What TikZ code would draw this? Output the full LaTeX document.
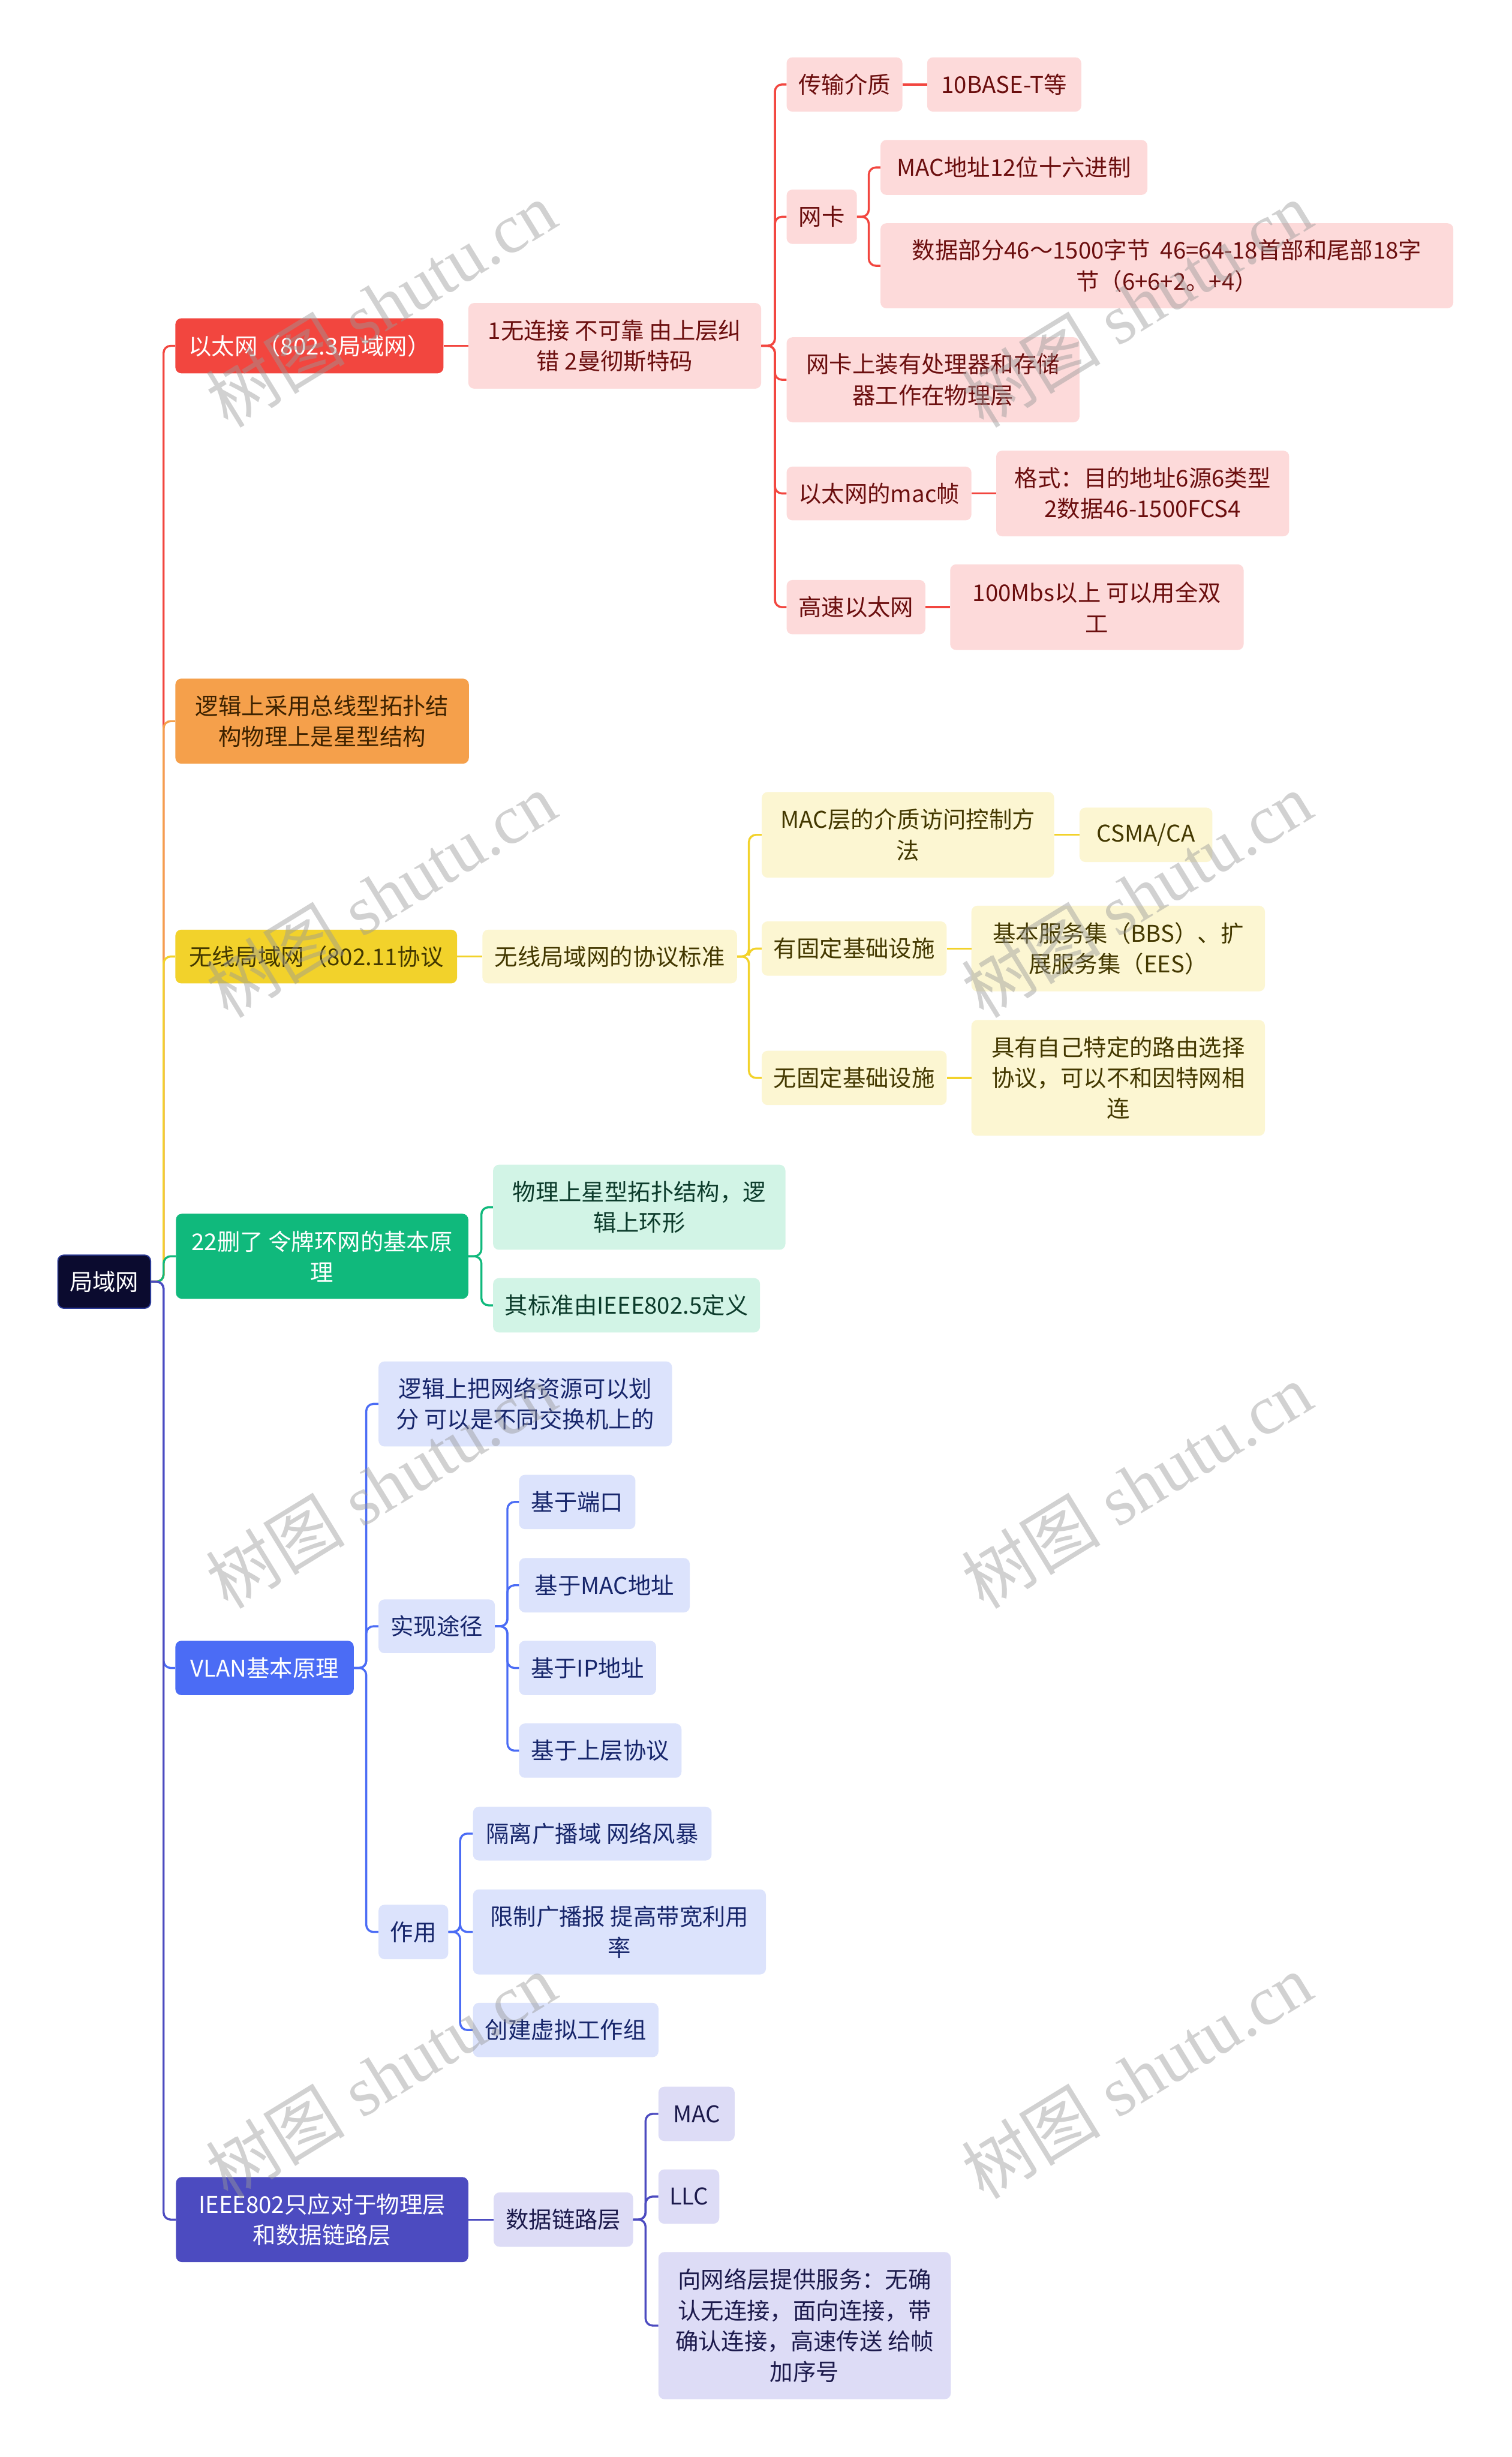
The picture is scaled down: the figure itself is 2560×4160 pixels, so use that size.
\documentclass[tikz,border=0pt]{standalone}
\usepackage{fontspec}
\setmainfont{Noto Sans CJK SC}
\newfontfamily\wmcjk{Noto Sans CJK SC}
\newfontfamily\wmlat{Liberation Serif}
\definecolor{cR}{HTML}{F2463F}
\definecolor{cRl}{HTML}{FDDADA}
\definecolor{cRt}{HTML}{6B0E0E}
\definecolor{cO}{HTML}{F5A04B}
\definecolor{cOt}{HTML}{3D2200}
\definecolor{cY}{HTML}{F2D22B}
\definecolor{cYl}{HTML}{FCF6D2}
\definecolor{cYt}{HTML}{433800}
\definecolor{cG}{HTML}{10B97C}
\definecolor{cGl}{HTML}{D2F4E6}
\definecolor{cGt}{HTML}{0C3B2B}
\definecolor{cB}{HTML}{4B6CF5}
\definecolor{cBl}{HTML}{DCE3FC}
\definecolor{cBt}{HTML}{17266B}
\definecolor{cI}{HTML}{4C4BC0}
\definecolor{cIl}{HTML}{DDDCF6}
\definecolor{cIt}{HTML}{1C1A4C}
\definecolor{cRoot}{HTML}{0B0B2F}
\definecolor{cRootB}{HTML}{2B3A96}
\begin{document}
\begin{tikzpicture}[x=1pt,y=-1pt,
  box/.style={rectangle, rounded corners=10pt, inner sep=0pt, align=center,
    font=\fontsize{39pt}{52pt}\selectfont},
  sz/.style 2 args={minimum width=#1pt, minimum height=#2pt},
  rootbox/.style={box, fill=cRoot, draw=cRootB, line width=2pt, text=white},
  rmain/.style={box, fill=cR, text=white},
  rsub/.style={box, fill=cRl, text=cRt},
  omain/.style={box, fill=cO, text=cOt},
  ymain/.style={box, fill=cY, text=cYt},
  ysub/.style={box, fill=cYl, text=cYt},
  gmain/.style={box, fill=cG, text=white},
  gsub/.style={box, fill=cGl, text=cGt},
  bmain/.style={box, fill=cB, text=white},
  bsub/.style={box, fill=cBl, text=cBt},
  imain/.style={box, fill=cI, text=white},
  isub/.style={box, fill=cIl, text=cIt},
  conn/.style={line width=3.5pt, rounded corners=12pt},
  lR/.style={conn, draw=cR},
  lO/.style={conn, draw=cO},
  lY/.style={conn, draw=cY},
  lG/.style={conn, draw=cG},
  lB/.style={conn, draw=cB},
  lI/.style={conn, draw=cI},
  wm/.style={rotate=31.5, text=black!40, opacity=0.45, inner sep=0pt}
]
\useasboundingbox[fill=white] (0,0) rectangle (2560,4160);

% ---------- nodes ----------
\node[rootbox, sz={157}{90}] (root) at (176.5,2170) {局域网};

% red branch
\node[rmain, sz={454}{93}] (R0) at (524,585.5) {以太网（802.3局域网）};
\node[rsub, sz={496}{145}] (R1) at (1041,585.5) {1无连接 不可靠 由上层纠\\错 2曼彻斯特码};
\node[rsub, sz={196}{92}] (R2) at (1430,143) {传输介质};
\node[rsub, sz={261}{92}] (R3) at (1700.5,143) {10BASE-T等};
\node[rsub, sz={119}{92}] (R4) at (1391.5,367) {网卡};
\node[rsub, sz={452}{93}] (R5) at (1717,283.5) {MAC地址12位十六进制};
\node[rsub, sz={970}{144}] (R6) at (1976,450) {数据部分46～1500字节\ \ 46=64-18首部和尾部18字\\节（6+6+2。+4）};
\node[rsub, sz={496}{144}] (R7) at (1580,643) {网卡上装有处理器和存储\\器工作在物理层};
\node[rsub, sz={313}{91}] (R8) at (1488.5,835.5) {以太网的mac帧};
\node[rsub, sz={496}{145}] (R9) at (1935,835.5) {格式：目的地址6源6类型\\2数据46-1500FCS4};
\node[rsub, sz={235}{92}] (R10) at (1449.5,1028) {高速以太网};
\node[rsub, sz={497}{145}] (R11) at (1857.5,1028) {100Mbs以上 可以用全双\\工};

% orange branch
\node[omain, sz={497}{144}] (O0) at (545.5,1221) {逻辑上采用总线型拓扑结\\构物理上是星型结构};

% yellow branch
\node[ymain, sz={477}{91}] (Y0) at (535.5,1619.5) {无线局域网（802.11协议};
\node[ysub, sz={431}{91}] (Y1) at (1032.5,1619.5) {无线局域网的协议标准};
\node[ysub, sz={495}{145}] (Y2) at (1537.5,1413.5) {MAC层的介质访问控制方\\法};
\node[ysub, sz={225}{92}] (Y3) at (1940.5,1413.5) {CSMA/CA};
\node[ysub, sz={313}{92}] (Y4) at (1446.5,1606) {有固定基础设施};
\node[ysub, sz={497}{145}] (Y5) at (1893.5,1606) {基本服务集（BBS）、扩\\展服务集（EES）};
\node[ysub, sz={313}{92}] (Y6) at (1446.5,1825) {无固定基础设施};
\node[ysub, sz={497}{196}] (Y7) at (1893.5,1825) {具有自己特定的路由选择\\协议，可以不和因特网相\\连};

% green branch
\node[gmain, sz={495}{144}] (G0) at (545.5,2127) {22删了 令牌环网的基本原\\理};
\node[gsub, sz={495}{144}] (G1) at (1082.5,2044) {物理上星型拓扑结构，逻\\辑上环形};
\node[gsub, sz={452}{92}] (G2) at (1061,2210) {其标准由IEEE802.5定义};

% blue branch
\node[bmain, sz={302}{92}] (B0) at (448,2824) {VLAN基本原理};
\node[bsub, sz={497}{144}] (B1) at (889.5,2377) {逻辑上把网络资源可以划\\分 可以是不同交换机上的};
\node[bsub, sz={197}{91}] (B2) at (739.5,2753.5) {实现途径};
\node[bsub, sz={197}{92}] (B3) at (977.5,2543) {基于端口};
\node[bsub, sz={289}{92}] (B4) at (1023.5,2684) {基于MAC地址};
\node[bsub, sz={232}{92}] (B5) at (995,2824) {基于IP地址};
\node[bsub, sz={275}{92}] (B6) at (1016.5,2964) {基于上层协议};
\node[bsub, sz={118}{92}] (B7) at (700,3271) {作用};
\node[bsub, sz={404}{91}] (B8) at (1003,3104.5) {隔离广播域 网络风暴};
\node[bsub, sz={496}{144}] (B9) at (1049,3271) {限制广播报 提高带宽利用\\率};
\node[bsub, sz={314}{92}] (B10) at (958,3437) {创建虚拟工作组};

% indigo branch
\node[imain, sz={495}{144}] (I0) at (545.5,3758) {IEEE802只应对于物理层\\和数据链路层};
\node[isub, sz={236}{92}] (I1) at (954,3758) {数据链路层};
\node[isub, sz={129}{92}] (I2) at (1179.5,3579) {MAC};
\node[isub, sz={103}{92}] (I3) at (1166.5,3719) {LLC};
\node[isub, sz={495}{249}] (I4) at (1362.5,3937.5) {向网络层提供服务：无确\\认无连接，面向连接，带\\确认连接，高速传送 给帧\\加序号};

% ---------- connectors ----------
\begin{scope}[on background layer/.style={}]
\end{scope}
\begin{pgfonlayer}{main}
\end{pgfonlayer}

\draw[lR] (root.east) -- ++(21,0) |- (R0.west);
\draw[lO] (root.east) -- ++(21,0) |- (O0.west);
\draw[lY] (root.east) -- ++(21,0) |- (Y0.west);
\draw[lG] (root.east) -- ++(21,0) |- (G0.west);
\draw[lB] (root.east) -- ++(21,0) |- (B0.west);
\draw[lI] (root.east) -- ++(21,0) |- (I0.west);

\draw[lR] (R0.east) -- (R1.west);
\foreach \c in {R2,R4,R7,R8,R10} \draw[lR] (R1.east) -- ++(23,0) |- (\c.west);
\draw[lR] (R2.east) -- (R3.west);
\foreach \c in {R5,R6} \draw[lR] (R4.east) -- ++(20,0) |- (\c.west);
\draw[lR] (R8.east) -- (R9.west);
\draw[lR] (R10.east) -- (R11.west);

\draw[lY] (Y0.east) -- (Y1.west);
\foreach \c in {Y2,Y4,Y6} \draw[lY] (Y1.east) -- ++(20,0) |- (\c.west);
\draw[lY] (Y2.east) -- (Y3.west);
\draw[lY] (Y4.east) -- (Y5.west);
\draw[lY] (Y6.east) -- (Y7.west);

\foreach \c in {G1,G2} \draw[lG] (G0.east) -- ++(22,0) |- (\c.west);

\foreach \c in {B1,B2,B7} \draw[lB] (B0.east) -- ++(21,0) |- (\c.west);
\foreach \c in {B3,B4,B5,B6} \draw[lB] (B2.east) -- ++(21,0) |- (\c.west);
\foreach \c in {B8,B9,B10} \draw[lB] (B7.east) -- ++(20,0) |- (\c.west);

\draw[lI] (I0.east) -- (I1.west);
\foreach \c in {I2,I3,I4} \draw[lI] (I1.east) -- ++(21,0) |- (\c.west);

% ---------- watermarks ----------
\foreach \wx in {645,1925} {
  \foreach \wy in {515,1515,2515,3515} {
    \node[wm] (wm\wx x\wy) at (\wx,\wy) {\fontsize{118pt}{118pt}\wmcjk 树图\hspace{0.25em}\wmlat shutu.cn};
  }
}
\end{tikzpicture}
\end{document}
